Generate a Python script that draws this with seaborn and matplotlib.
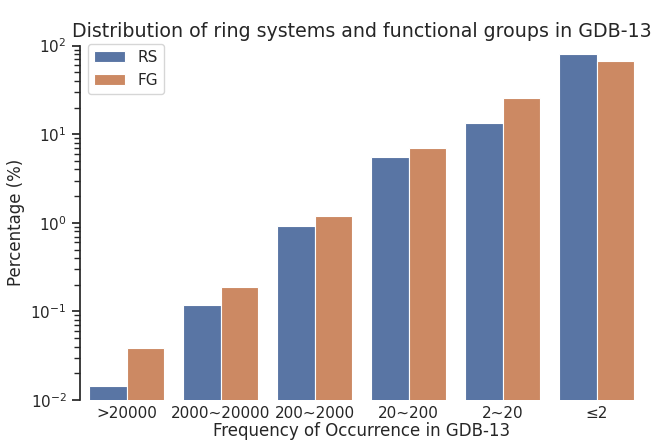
import matplotlib
matplotlib.use("Agg")
import matplotlib.pyplot as plt
import seaborn as sns
import pandas as pd

categories = [">20000", "2000~20000", "200~2000", "20~200", "2~20", "≤2"]
rs_pct = [0.0144, 0.118, 0.92, 5.57, 13.4, 79.8]
fg_pct = [0.0383, 0.187, 1.19, 6.98, 25.4, 66.5]
series_names = ["RS", "FG"]

df = pd.DataFrame({
    "Frequency": categories * 2,
    "Percentage": rs_pct + fg_pct,
    "Type": [series_names[0]] * len(categories) + [series_names[1]] * len(categories),
})

sns.set_theme(style="ticks", palette="deep")

fig = plt.figure(figsize=(6.55, 4.43), dpi=100)
ax = fig.add_axes([0.122, 0.097, 0.8608, 0.800])

sns.barplot(data=df, x="Frequency", y="Percentage", hue="Type",
            order=categories, hue_order=series_names, ax=ax,
            edgecolor="white", linewidth=0.8)

ax.set_yscale("log")
ax.set_ylim(0.01, 100)
ax.set_xlim(-0.5, len(categories) - 0.5)
ax.set_xlabel("Frequency of Occurrence in GDB-13", fontsize=12, labelpad=1)
ax.set_ylabel("Percentage (%)", fontsize=12)
ax.set_title("Distribution of ring systems and functional groups in GDB-13", fontsize=13.7)
ax.tick_params(axis="x", length=0, labelsize=11, pad=4)
ax.tick_params(axis="y", labelsize=11)
sns.despine(ax=ax, bottom=True)
ax.legend(loc="upper left", bbox_to_anchor=(0.015, 1.005), borderaxespad=0,
          title=None, fontsize=11)

fig.savefig("out.png", dpi=100)
